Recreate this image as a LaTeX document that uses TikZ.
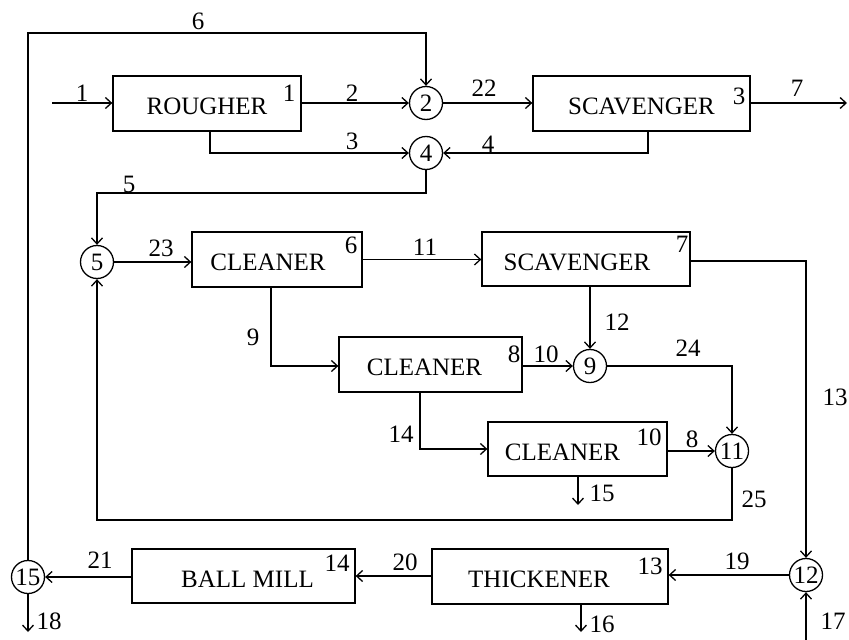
\documentclass[tikz,border=0pt]{standalone}
\usepackage{fontspec}
\setmainfont{Liberation Serif}
\usetikzlibrary{arrows.meta}
\begin{document}
\begin{tikzpicture}[x=1pt,y=-1pt,
  line width=1.3pt,
  every node/.style={font=\fontsize{25}{27}\selectfont},
  unit/.style={draw, rectangle, inner sep=0pt, text height=22pt, text depth=0pt},
  mix/.style={draw, circle, minimum size=33pt, inner sep=0pt},
  lbl/.style={inner sep=0pt},
  arr/.style={-{Straight Barb[length=6pt,width=11pt]}},
]
\useasboundingbox (0,0) rectangle (849,640);

% process units
\node[unit, minimum width=188pt, minimum height=55pt] (rough) at (207,103.5) {ROUGHER};
\node[unit, minimum width=217pt, minimum height=55pt] (scavA) at (641.5,103.5) {SCAVENGER};
\node[unit, minimum width=170pt, minimum height=55pt] (clA) at (277,259.5) {\hspace*{-18pt}CLEANER};
\node[unit, minimum width=208pt, minimum height=54pt] (scavB) at (586,259) {\hspace*{-18pt}SCAVENGER};
\node[unit, minimum width=183pt, minimum height=55pt] (clB) at (430.5,364.5) {\hspace*{-12pt}CLEANER};
\node[unit, minimum width=179pt, minimum height=54pt] (clC) at (577.5,449) {\hspace*{-30pt}CLEANER};
\node[unit, minimum width=236pt, minimum height=55pt] (thick) at (550,576.5) {\hspace*{-22pt}THICKENER};
\node[unit, minimum width=223pt, minimum height=54pt] (mill) at (243.5,576) {BALL MILL\hspace*{-8pt}};

% unit numbers
\node[lbl] (idA) at (289,93) {1};
\node[lbl] (idB) at (739,96) {3};
\node[lbl] (idC) at (351,245) {6};
\node[lbl] (idD) at (682,244) {7};
\node[lbl] (idE) at (514,354) {8};
\node[lbl] (idF) at (649,437) {10};
\node[lbl] (idG) at (650,566) {13};
\node[lbl] (idH) at (337,563) {14};

% mixers
\node[mix] (m2) at (426,103) {2};
\node[mix] (m4) at (426,153) {4};
\node[mix] (m5) at (97,262) {5};
\node[mix] (m9) at (590,366) {9};
\node[mix] (m11) at (732,451) {11};
\node[mix] (m12) at (806,575) {12};
\node[mix] (m15) at (28,577) {15};

% free ends and bends
\coordinate (in1) at (52,103);
\coordinate (out7) at (847,103);
\coordinate (k5) at (426,193);
\coordinate (out15) at (578,505);
\coordinate (k25) at (732,520);
\coordinate (in17) at (806,640);
\coordinate (out16) at (581,632);
\coordinate (out18) at (28,632);
\coordinate (k6) at (426,33);

% streams
\draw[arr] (in1) -- (in1 -| rough.west);
\draw[arr] (rough.east |- m2) -- (m2.west);
\draw[arr] ([xshift=3pt]rough.south) |- (m4.west);
\draw[arr] (m2.east) -- (m2.east -| scavA.west);
\draw[arr] (scavA.east |- out7) -- (out7);
\draw[arr] ([xshift=6.5pt]scavA.south) |- (m4.east);
\draw[arr] (m4.south) -- (k5) -| (m5.north);
\draw[arr] (m5.east) -- (m5.east -| clA.west);
\draw[arr] (clA.east) -- (clA.east -| scavB.west);
\draw[arr] ([yshift=-2pt]scavB.east) -| (m12.north);
\draw[arr] (scavB.south -| m9) -- (m9.north);
\draw[arr] ([xshift=-6pt]clA.south) |- (clB.west |- m9);
\draw[arr] (clB.east |- m9) -- (m9.west);
\draw[arr] (m9.east) -| (m11.north);
\draw[arr] ([xshift=-10.5pt]clB.south) |- (clC.west);
\draw[arr] (clC.east |- m11) -- (m11.west);
\draw[arr] (clC.south -| out15) -- (out15);
\draw[arr] (m11.south) -- (k25) -| (m5.south);
\draw[arr] (in17) -- (m12.south);
\draw[arr] (m12.west) -- (m12.west -| thick.east);
\draw[arr] (thick.south -| out16) -- (out16);
\draw[arr] (thick.west |- mill) -- (mill.east);
\draw[arr] (mill.west |- m15) -- (m15.east);
\draw[arr] (m15.south) -- (out18);
\draw[arr] (m15.north) |- (k6) -- (m2.north);

% stream numbers
\node[lbl] (s6) at (198,21) {6};
\node[lbl] (s1) at (82,93) {1};
\node[lbl] (s2) at (352,93) {2};
\node[lbl] (s3) at (352,141) {3};
\node[lbl] (s22) at (484,88) {22};
\node[lbl] (s7) at (797,88) {7};
\node[lbl] (s4) at (488,144) {4};
\node[lbl] (s5) at (129,184) {5};
\node[lbl] (s23) at (161,248) {23};
\node[lbl] (s11) at (425,247) {11};
\node[lbl] (s12) at (617,322) {12};
\node[lbl] (s9) at (253,337) {9};
\node[lbl] (s10) at (546,354) {10};
\node[lbl] (s24) at (688,348) {24};
\node[lbl] (s13) at (835,397) {13};
\node[lbl] (s14) at (401,434) {14};
\node[lbl] (s8) at (692,439) {8};
\node[lbl] (s15) at (602,493) {15};
\node[lbl] (s25) at (754,499) {25};
\node[lbl] (s19) at (737,561) {19};
\node[lbl] (s20) at (405,562) {20};
\node[lbl] (s21) at (100,560) {21};
\node[lbl] (s17) at (833,621) {17};
\node[lbl] (s16) at (602,624) {16};
\node[lbl] (s18) at (49,621) {18};
\end{tikzpicture}
\end{document}
